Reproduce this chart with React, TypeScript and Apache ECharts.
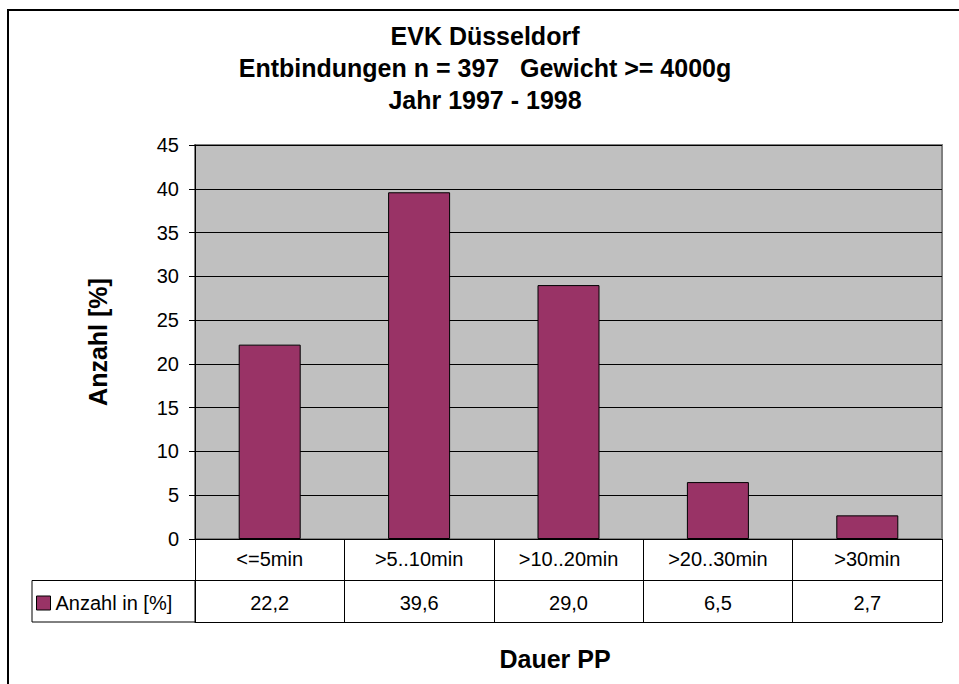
import React, { useEffect, useRef } from "react";
import * as echarts from "echarts";

const categories = ["<=5min", ">5..10min", ">10..20min", ">20..30min", ">30min"];
const values = [22.2, 39.6, 29.0, 6.5, 2.7];
const seriesName = "Anzahl in [%]";
const titleLines = ["EVK Düsseldorf", "Entbindungen n = 397   Gewicht >= 4000g", "Jahr 1997 - 1998"];
const yAxisName = "Anzahl [%]";
const xAxisName = "Dauer PP";
const yMin = 0;
const yMax = 45;
const yInterval = 5;

const FONT = "'Liberation Sans', Arial, Helvetica, sans-serif";

export default function App() {
  const ref = useRef<HTMLDivElement>(null);
  useEffect(() => {
    if (!ref.current) return;
    const chart = echarts.init(ref.current, undefined, { renderer: "svg" });
    const valueLabels = values.map((v) => v.toFixed(1).replace(".", ","));
    const gridLeft = 195;
    const gridTop = 145;
    const gridWidth = 747;
    const gridHeight = 394;
    const rowH = 41.5;
    chart.setOption({
      animation: false,
      backgroundColor: "#ffffff",
      textStyle: { fontFamily: FONT, color: "#000" },
      title: {
        text: titleLines.join("\n"),
        left: 485,
        top: 20,
        textAlign: "center",
        padding: 0,
        textStyle: { fontFamily: FONT, fontSize: 25, fontWeight: "bold", color: "#000", lineHeight: 32 },
      },
      legend: {
        data: [seriesName],
        left: 36,
        top: 593,
        padding: 0,
        icon: "rect",
        itemWidth: 14,
        itemHeight: 14,
        textStyle: { fontFamily: FONT, fontSize: 20, color: "#000" },
        itemStyle: { borderColor: "#000", borderWidth: 1 },
      },
      grid: {
        left: gridLeft,
        top: gridTop,
        width: gridWidth,
        height: gridHeight,
        show: true,
        backgroundColor: "#c0c0c0",
        borderColor: "#808080",
        borderWidth: 2,
      },
      xAxis: [
        {
          type: "category",
          data: categories,
          position: "bottom",
          axisLine: { show: true, lineStyle: { color: "#000", width: 1 } },
          axisTick: { show: true, alignWithLabel: false, length: rowH * 2, lineStyle: { color: "#000", width: 1 } },
          axisLabel: { fontFamily: FONT, fontSize: 20, color: "#000", margin: 10 },
          splitLine: { show: false },
        },
        {
          type: "category",
          data: categories,
          position: "bottom",
          offset: rowH,
          axisLine: { show: true, lineStyle: { color: "#000", width: 1 } },
          axisTick: { show: false },
          axisLabel: {
            fontFamily: FONT,
            fontSize: 20,
            color: "#000",
            margin: 12,
            formatter: (_v: string, i: number) => valueLabels[i],
          },
          splitLine: { show: false },
        },
        {
          type: "category",
          data: categories,
          position: "bottom",
          offset: rowH * 2,
          axisLine: { show: true, lineStyle: { color: "#000", width: 1 } },
          axisTick: { show: false },
          axisLabel: { show: false },
          splitLine: { show: false },
          name: xAxisName,
          nameLocation: "middle",
          nameGap: 24,
          nameTextStyle: { fontFamily: FONT, fontSize: 25, fontWeight: "bold", color: "#000", padding: [0, 27, 0, 0] },
        },
      ],
      yAxis: {
        type: "value",
        min: yMin,
        max: yMax,
        interval: yInterval,
        axisLine: { show: true, lineStyle: { color: "#000", width: 1 } },
        axisTick: { show: true, length: 6, lineStyle: { color: "#000", width: 1 } },
        axisLabel: { fontFamily: FONT, fontSize: 20, color: "#000", margin: 16 },
        splitLine: { show: true, lineStyle: { color: "#000", width: 1 } },
        name: yAxisName,
        nameLocation: "middle",
        nameGap: 85,
        nameTextStyle: { fontFamily: FONT, fontSize: 25, fontWeight: "bold", color: "#000" },
      },
      series: [
        {
          name: seriesName,
          type: "bar",
          xAxisIndex: 0,
          data: values,
          barWidth: 62,
          itemStyle: { color: "#993366", borderColor: "#000", borderWidth: 1 },
        },
      ],
      graphic: [
        {
          type: "rect",
          shape: { x: 8, y: 10, width: 1200, height: 1000 },
          style: { fill: "none", stroke: "#000", lineWidth: 2 },
          silent: true,
        },
        {
          type: "rect",
          shape: { x: 32, y: gridTop + gridHeight + rowH, width: gridLeft - 32, height: rowH },
          style: { fill: "none", stroke: "#000", lineWidth: 1 },
          silent: true,
        },
      ],
    });
    return () => chart.dispose();
  }, []);
  return <div ref={ref} style={{ position: "absolute", left: 0, top: 0, width: 959, height: 684 }} />;
}
